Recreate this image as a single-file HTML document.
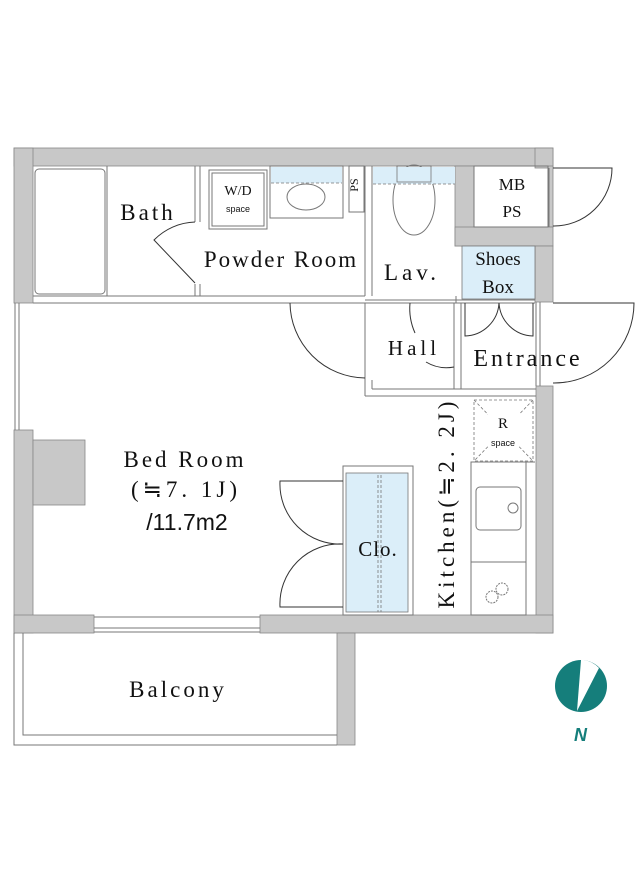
<!DOCTYPE html>
<html><head><meta charset="utf-8"><style>
html,body{margin:0;padding:0;background:#fff;}
svg{display:block;}
text{font-family:"Liberation Serif","Noto Serif CJK SC",serif;fill:#111;}
</style></head><body>
<svg width="640" height="878" viewBox="0 0 640 878" xmlns="http://www.w3.org/2000/svg">
<g fill="#c8c8c8" stroke="#888" stroke-width="0.8">
<rect x="14" y="148" width="539" height="18"/>
<rect x="14" y="148" width="19" height="155"/>
<rect x="14" y="430" width="19" height="203"/>
<rect x="33" y="440" width="52" height="65"/>
<rect x="535" y="148" width="18" height="20"/>
<rect x="548" y="166" width="5" height="61"/>
<rect x="455" y="166" width="19" height="80"/>
<rect x="455" y="227" width="98" height="19"/>
<rect x="535" y="246" width="18" height="56"/>
<rect x="536" y="386" width="17" height="247"/>
<rect x="14" y="615" width="80" height="18"/>
<rect x="260" y="615" width="293" height="18"/>
<rect x="337" y="633" width="18" height="112"/>
</g>
<g fill="none" stroke="#777" stroke-width="1">
<line x1="15" y1="303" x2="15" y2="430"/><line x1="19" y1="303" x2="19" y2="430"/>
<line x1="94" y1="628" x2="260" y2="628"/><line x1="94" y1="632" x2="260" y2="632"/>
<line x1="94" y1="617" x2="260" y2="617"/>
<polyline points="14,633 14,745 337,745"/>
<polyline points="23,633 23,735 337,735"/>
<line x1="33" y1="296" x2="365" y2="296"/><line x1="33" y1="303" x2="290" y2="303"/>
<line x1="290" y1="303" x2="365" y2="303"/>
<line x1="195" y1="166" x2="195" y2="222"/><line x1="200" y1="166" x2="200" y2="222"/>
<line x1="195" y1="284" x2="195" y2="296"/><line x1="200" y1="284" x2="200" y2="296"/>
<line x1="365" y1="166" x2="365" y2="296"/><line x1="372" y1="166" x2="372" y2="296"/>
<line x1="365" y1="300" x2="535" y2="300"/><line x1="365" y1="303" x2="535" y2="303"/>
<line x1="365" y1="303" x2="365" y2="396"/><line x1="372" y1="380" x2="372" y2="389"/>
<line x1="372" y1="389" x2="536" y2="389"/><line x1="365" y1="396" x2="536" y2="396"/>
<line x1="454" y1="303" x2="454" y2="389"/><line x1="461" y1="303" x2="461" y2="389"/>
<line x1="456" y1="296" x2="456" y2="303"/>
<line x1="536" y1="302" x2="536" y2="386"/><line x1="540" y1="302" x2="540" y2="386"/>
<line x1="549" y1="168" x2="549" y2="227"/>
<rect x="35" y="169" width="70" height="125" rx="4"/>
<line x1="107" y1="166" x2="107" y2="296"/>
<rect x="209" y="170" width="58" height="59"/><rect x="212" y="173" width="52" height="53"/>
<rect x="270" y="166" width="73" height="52"/>
<ellipse cx="306" cy="197" rx="19" ry="13"/>
<line x1="343" y1="166" x2="343" y2="218"/>
<rect x="349" y="166" width="15" height="46"/>
<rect x="397" y="166" width="34" height="16"/>
<ellipse cx="414" cy="200" rx="21" ry="35"/>
<rect x="474" y="166" width="74" height="61"/>
<rect x="343" y="466" width="70" height="149"/>
<rect x="471" y="462" width="55" height="153"/>
<rect x="476" y="487" width="45" height="43" rx="4"/>
<circle cx="513" cy="508" r="5"/>
<line x1="471" y1="562" x2="526" y2="562"/>
<circle cx="492" cy="597" r="6" stroke-dasharray="2,1"/><circle cx="502" cy="589" r="6" stroke-dasharray="2,1"/>
<line x1="526" y1="462" x2="535" y2="462"/>
</g>
<g fill="#dbeef9" stroke="none">
<rect x="271" y="167" width="71" height="16"/>
<rect x="373" y="167" width="82" height="17"/>
<rect x="462" y="246" width="73" height="53"/>
<rect x="346" y="473" width="62" height="139"/>
</g>
<g fill="none" stroke="#777" stroke-width="0.8">
<line x1="271" y1="183" x2="342" y2="183" stroke-dasharray="3,2"/>
<line x1="373" y1="184" x2="455" y2="184" stroke-dasharray="3,2"/>
<rect x="397" y="166" width="34" height="16"/>
<rect x="462" y="246" width="73" height="53"/>
<rect x="346" y="473" width="62" height="139"/>
<line x1="378" y1="475" x2="378" y2="612" stroke-dasharray="3,2"/>
<line x1="381" y1="475" x2="381" y2="612" stroke-dasharray="3,2"/>
<rect x="474" y="400" width="59" height="61" stroke-dasharray="3,2"/>
<line x1="474" y1="400" x2="533" y2="461" stroke-dasharray="3,2"/>
<line x1="533" y1="400" x2="474" y2="461" stroke-dasharray="3,2"/>
</g>
<g fill="#fff" stroke="none">
<rect x="488" y="414" width="32" height="32"/>
</g>
<g fill="none" stroke="#333" stroke-width="1">
<path d="M195,222 A60,60 0 0 0 154,240 L195,283"/>
<path d="M290,303 A76,76 0 0 0 365,378"/>
<path d="M553,168 H612 A58,58 0 0 1 553,226"/>
<path d="M553,303 H634 A80,80 0 0 1 553,383"/>
<path d="M410,303 A60,60 0 0 0 415,333"/>
<path d="M426,362 A40,40 0 0 0 454,367"/>
<path d="M465,303 V336 A35,35 0 0 0 499,303"/>
<path d="M533,303 V336 A35,35 0 0 1 499,303"/>
<path d="M343,481 H280 A60,60 0 0 0 343,544 A60,60 0 0 0 280,607 H343"/>
</g>
<text x="148" y="220" font-size="23" text-anchor="middle" letter-spacing="3">Bath</text>
<text x="281" y="267" font-size="23" text-anchor="middle" letter-spacing="2">Powder Room</text>
<text x="238" y="195" font-size="14" text-anchor="middle">W/D</text>
<text x="238" y="212" font-size="9" text-anchor="middle" style="font-family:'Liberation Sans',sans-serif">space</text>
<text x="362" y="189" font-size="12" text-anchor="middle" transform="rotate(-90 358 189)">PS</text>
<text x="412" y="280" font-size="23" text-anchor="middle" letter-spacing="4">Lav.</text>
<text x="512" y="190" font-size="17" text-anchor="middle">MB</text>
<text x="512" y="217" font-size="17" text-anchor="middle">PS</text>
<text x="498" y="265" font-size="19" text-anchor="middle">Shoes</text>
<text x="498" y="293" font-size="19" text-anchor="middle">Box</text>
<text x="414" y="355" font-size="21" text-anchor="middle" letter-spacing="4">Hall</text>
<text x="528" y="366" font-size="24" text-anchor="middle" letter-spacing="3">Entrance</text>
<text x="503" y="428" font-size="15" text-anchor="middle">R</text>
<text x="503" y="446" font-size="9" text-anchor="middle" style="font-family:'Liberation Sans',sans-serif">space</text>
<text x="185" y="467" font-size="23" text-anchor="middle" letter-spacing="3">Bed Room</text>
<text x="186" y="497" font-size="23" text-anchor="middle" letter-spacing="4">(≒7. 1J)</text>
<text x="187" y="530" font-size="23" text-anchor="middle" style="font-family:'Liberation Sans',sans-serif">/11.7m2</text>
<text x="378" y="556" font-size="21" text-anchor="middle" letter-spacing="1">Clo.</text>
<text x="0" y="0" font-size="23" text-anchor="middle" letter-spacing="4" transform="translate(454,503) rotate(-90)">Kitchen(≒2. 2J)</text>
<text x="178" y="697" font-size="23" text-anchor="middle" letter-spacing="3">Balcony</text>
<circle cx="581" cy="686" r="26" fill="#157e7b"/>
<path d="M581,660 L584,660 A26,26 0 0 1 599,668 L577,711 Z" fill="#fff"/>
<text x="574" y="741" font-size="18" font-style="italic" font-weight="bold" style="font-family:'Liberation Sans',sans-serif;fill:#157e7b">N</text>
</svg>
</body></html>
